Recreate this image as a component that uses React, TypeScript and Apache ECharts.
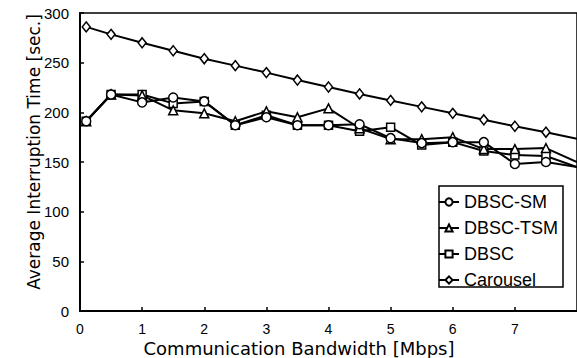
import React, { useEffect, useRef } from "react";
import * as echarts from "echarts";

const bandwidth = [0.1, 0.5, 1, 1.5, 2, 2.5, 3, 3.5, 4, 4.5, 5, 5.5, 6, 6.5, 7, 7.5, 8];
const dbscSM = [191, 218, 210, 215, 211, 187, 195, 187, 187, 188, 174, 169, 170, 170, 148, 150, 145];
const dbscTSM = [191, 218, 217, 202, 199, 191, 201, 195, 204, 184, 173, 173, 175, 163, 163, 164, 150];
const dbsc = [191, 218, 218, 209, 211, 187, 197, 187, 187, 181, 185, 167, 170, 161, 157, 156, 145];
const carousel = [286, 278.5, 270, 262, 254, 247, 240, 232.5, 225.5, 218.5, 212, 205.5, 199, 192.5, 186, 180, 173.5];
const seriesNames = ["DBSC-SM", "DBSC-TSM", "DBSC", "Carousel"];
const xTitle = "Communication Bandwidth [Mbps]";
const yTitle = "Average Interruption Time [sec.]";

const FONT = "'Liberation Sans', Arial, sans-serif";
const TFONT = "'DejaVu Sans', sans-serif";

function pairs(vals: number[]) {
  return bandwidth.map((x, i) =>
    i === bandwidth.length - 1 ? { value: [x, vals[i]], symbol: "none" } : [x, vals[i]]
  );
}

export default function App() {
  const ref = useRef<HTMLDivElement>(null);
  useEffect(() => {
    document.body.style.margin = "0";
    const chart = echarts.init(ref.current!, null, { renderer: "svg" });
    const mk = (name: string, vals: number[], symbol: string, size: any) => ({
      name,
      type: "line",
      data: pairs(vals),
      symbol,
      symbolSize: size,
      showAllSymbol: true,
      lineStyle: { color: "#000", width: 2 },
      itemStyle: { color: "#fff", borderColor: "#000", borderWidth: 1.5 },
      emphasis: { disabled: true },
    });
    chart.setOption({
      animation: false,
      backgroundColor: "#fff",
      textStyle: { fontFamily: FONT },
      grid: {
        left: 80,
        top: 13,
        width: 501,
        height: 298,
        show: true,
        borderColor: "#000",
        borderWidth: 1.5,
        backgroundColor: "transparent",
      },
      xAxis: {
        type: "value",
        min: 0,
        max: 8,
        interval: 1,
        axisLine: { lineStyle: { color: "#000", width: 2 } },
        axisTick: { inside: true, length: 4, lineStyle: { color: "#000", width: 1.5 } },
        axisLabel: { color: "#000", fontSize: 14, margin: 11, fontFamily: FONT, showMaxLabel: false },
        splitLine: { show: false },
      },
      yAxis: {
        type: "value",
        min: 0,
        max: 300,
        interval: 50,
        axisLine: { show: true, lineStyle: { color: "#000", width: 2 } },
        axisTick: { show: true, inside: true, length: 4, lineStyle: { color: "#000", width: 1.5 } },
        axisLabel: { color: "#000", fontSize: 15, margin: 11, fontFamily: FONT },
        splitLine: { show: false },
      },
      legend: {
        orient: "vertical",
        left: 436,
        top: 186,
        data: seriesNames,
        padding: [7, 2, 4, 2],
        itemGap: 8,
        itemWidth: 20,
        itemHeight: 9,
        borderWidth: 0,
        textStyle: { color: "#000", fontSize: 18, fontFamily: FONT },
      },
      graphic: [
        {
          type: "rect",
          z: 3,
          shape: { x: 439, y: 186, width: 124, height: 101 },
          style: { fill: "#fff", stroke: "#000", lineWidth: 1.5 },
        },
        {
          type: "text",
          x: 299,
          y: 348,
          style: { text: xTitle, font: `18px ${TFONT}`, fill: "#000", align: "center", verticalAlign: "middle" },
        },
        {
          type: "text",
          x: 34,
          y: 152,
          rotation: Math.PI / 2,
          style: { text: yTitle, font: `17px ${TFONT}`, fill: "#000", align: "center", verticalAlign: "middle" },
        },
      ],
      series: [
        mk(seriesNames[3], carousel, "diamond", [8, 10]),
        mk(seriesNames[2], dbsc, "rect", 8),
        mk(seriesNames[1], dbscTSM, "triangle", 9),
        mk(seriesNames[0], dbscSM, "circle", 9),
      ],
    });
    return () => chart.dispose();
  }, []);
  return <div ref={ref} style={{ width: 577, height: 358 }} />;
}
